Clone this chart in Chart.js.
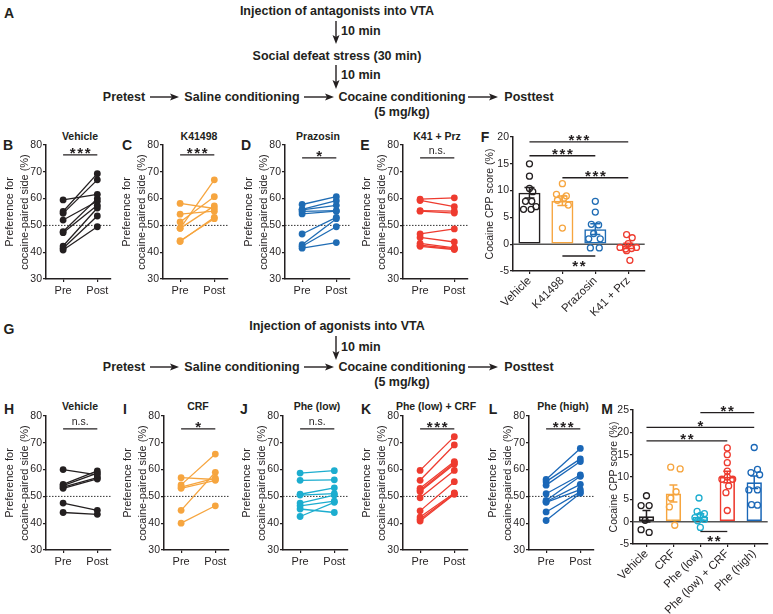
<!DOCTYPE html>
<html><head><meta charset="utf-8">
<script src="https://cdn.jsdelivr.net/npm/chart.js@4/dist/chart.umd.min.js"></script>
<style>
html,body{margin:0;padding:0;background:#fff;overflow:hidden;}
#fig{position:relative;width:773px;height:614px;overflow:hidden;font-family:'Liberation Sans',Arial,Helvetica,sans-serif;color:#231f20;}
.t{position:absolute;white-space:nowrap;transform:translate(-50%,-50%);line-height:1;}
.l{transform:translate(0,-50%);}
.sch{font-weight:bold;font-size:12.5px;}
.lt{font-weight:bold;font-size:14px;}
.pt{font-weight:bold;font-size:10.5px;}
canvas{position:absolute;}
svg{position:absolute;left:0;top:0;}
</style></head><body><div id="fig"></div>
<script>
// ================= DATA =================
const xLabels = ['Pre', 'Post'];
const prefTicks = [30, 40, 50, 60, 70, 80];

// Top row (antagonists)
const B_title = 'Vehicle';
const B_pre  = [59.5, 55.2, 54.5, 52.0, 47.7, 47.3, 42.3, 41.5, 40.8];
const B_post = [61.6, 69.3, 67.0, 59.0, 60.0, 57.5, 56.5, 53.5, 49.5];
const B_sig = '***';
const C_title = 'K41498';
const C_pre  = [58.2, 54.2, 51.3, 48.9, 48.9, 44.3, 44.0];
const C_post = [56.3, 55.3, 60.7, 67.0, 57.3, 52.5, 53.0];
const C_sig = '***';
const D_title = 'Prazosin';
const D_pre  = [57.8, 56.0, 55.8, 55.2, 54.3, 46.8, 42.8, 42.2, 41.5];
const D_post = [60.7, 59.2, 57.5, 55.5, 55.3, 53.0, 52.5, 49.5, 43.6];
const D_sig = '*';
const E_title = 'K41 + Prz';
const E_pre  = [59.8, 59.3, 55.5, 55.3, 46.8, 45.5, 43.3, 42.6, 42.2];
const E_post = [60.3, 57.0, 55.3, 54.6, 48.7, 43.8, 41.6, 41.3, 41.0];
const E_sig = 'n.s.';

// Bottom row (agonists)
const H_title = 'Vehicle';
const H_pre  = [60.0, 54.5, 54.0, 53.5, 53.0, 47.5, 44.0];
const H_post = [58.0, 59.5, 58.7, 57.0, 56.5, 44.8, 43.3];
const H_sig = 'n.s.';
const I_title = 'CRF';
const I_pre  = [57.0, 54.3, 53.5, 53.0, 44.8, 40.0];
const I_post = [56.3, 65.8, 56.8, 56.0, 59.0, 46.5];
const I_sig = '*';
const J_title = 'Phe (low)';
const J_pre  = [58.7, 56.0, 50.8, 50.5, 47.5, 46.5, 45.3, 42.5];
const J_post = [59.6, 56.2, 53.2, 51.0, 50.5, 48.2, 44.0, 47.8];
const J_sig = 'n.s.';
const K_title = 'Phe (low) + CRF';
const K_pre  = [59.7, 56.0, 53.0, 52.3, 51.8, 49.5, 44.6, 42.3, 41.5, 40.8];
const K_post = [72.3, 69.2, 63.0, 62.5, 62.0, 59.7, 55.5, 51.3, 51.0, 50.8];
const K_sig = '***';
const L_title = 'Phe (high)';
const L_pre  = [56.3, 55.5, 54.2, 51.0, 48.5, 48.0, 47.8, 44.2, 41.0];
const L_post = [67.9, 64.0, 63.0, 58.0, 57.5, 54.5, 52.5, 51.7, 51.2];
const L_sig = '***';

// Panel F
const F_categories = ['Vehicle', 'K41498', 'Prazosin', 'K41 + Prz'];
const F_mean = [9.6, 8.1, 2.8, -0.3];
const F_sem  = [1.0, 0.9, 1.0, 0.5];
const F_vehicle  = [15.0, 12.7, 10.4, 9.8, 8.0, 8.0, 6.5, 6.5, 7.0];
const F_k41498   = [11.3, 9.3, 9.0, 8.6, 8.2, 7.3, 3.0];
const F_prazosin = [8.0, 6.0, 3.7, 3.6, 2.0, 1.0, 1.0, -0.7, -0.7];
const F_k41prz   = [1.8, 1.2, 0.1, -0.6, -0.9, -0.8, -0.6, -1.2, -3.0];
const F_vehicle_dx  = [0, 0, 0, 0.1, -0.12, 0.07, -0.18, 0.05, 0.2];
const F_k41498_dx   = [0, -0.18, 0.12, 0.05, -0.15, 0.18, 0];
const F_prazosin_dx = [0, 0, -0.12, 0.1, -0.05, -0.2, 0.15, -0.15, 0.12];
const F_k41prz_dx   = [-0.05, 0.12, 0, -0.25, -0.08, 0.1, 0.25, -0.05, 0.05];
const F_ticks = [-5, 0, 5, 10, 15, 20];
const F_sigs = [
  {from: 0, to: 3, y: 19.1, text: '***'},
  {from: 0, to: 2, y: 16.5, text: '***'},
  {from: 1, to: 3, y: 12.4, text: '***'},
  {from: 1, to: 2, y: -2.2, text: '**', below: true}
];

// Panel M
const M_categories = ['Vehicle', 'CRF', 'Phe (low)', 'Phe (low) + CRF', 'Phe (high)'];
const M_mean = [1.2, 6.3, 1.1, 10.0, 8.8];
const M_sem  = [1.3, 1.9, 0.7, 1.3, 1.4];
const M_vehicle = [5.8, 3.6, 3.6, 0.3, -1.8, -2.4];
const M_crf     = [12.2, 11.8, 6.7, 5.3, 3.3, -0.8];
const M_phelow  = [5.3, 2.3, 1.8, 1.4, 0.9, 0.5, 0.2, -1.3];
const M_phecrf  = [16.5, 15.0, 13.2, 11.3, 10.0, 9.5, 9.5, 8.0, 6.5, 2.5];
const M_phehigh = [16.6, 11.7, 11.0, 10.5, 7.1, 7.1, 3.8, 3.7];
const M_vehicle_dx = [0, -0.2, 0.1, -0.05, -0.2, 0.1];
const M_crf_dx     = [-0.1, 0.25, 0.1, -0.1, -0.15, 0.05];
const M_phelow_dx  = [-0.05, -0.12, 0.15, 0, -0.2, 0.15, -0.1, 0];
const M_phecrf_dx  = [0, 0, 0, 0, 0, -0.2, 0.2, 0.05, -0.05, 0];
const M_phehigh_dx = [0, 0.12, -0.12, 0.2, -0.2, 0.12, -0.1, 0.12];
const M_ticks = [-5, 0, 5, 10, 15, 20, 25];
const M_sigs = [
  {from: 2, to: 4, y: 24.4, text: '**'},
  {from: 0, to: 4, y: 21.1, text: '*'},
  {from: 0, to: 3, y: 18.1, text: '**'},
  {from: 2, to: 3, y: -2.2, text: '**', below: true}
];

// ================= STYLE =================
const FONT = "'Liberation Sans', Arial, Helvetica, sans-serif";
const INK = '#231f20';
const BLACK = '#231f20', ORANGE = '#F6A53F', BLUE = '#1F6CB4', RED = '#EE3B2F', CYAN = '#1CADCF', BLUE2 = '#1A67B7';
const tickFont = {family: FONT, size: 10.5};
const xTickFont = {family: FONT, size: 11};
const barLabelFont = {family: FONT, size: 11.5};

const fig = document.getElementById('fig');
function txt(s, x, y, cls) {
  const d = document.createElement('div');
  d.className = 't ' + cls; d.textContent = s;
  d.style.left = x + 'px'; d.style.top = y + 'px';
  fig.appendChild(d);
}
function addCanvas(left, top, w, h) {
  const c = document.createElement('canvas');
  c.width = w; c.height = h;
  c.style.left = left + 'px'; c.style.top = top + 'px';
  c.style.width = w + 'px'; c.style.height = h + 'px';
  fig.appendChild(c);
  return c;
}

function sigLabel(ctx, text, cx, ly, below) {
  ctx.save();
  ctx.fillStyle = INK; ctx.textAlign = 'center'; ctx.textBaseline = 'alphabetic';
  if (text.indexOf('*') >= 0) {
    ctx.font = 'bold 15px ' + FONT;
    const n = text.length, sp = 7.5;
    const base = below ? ly + 15 : ly + 3.5;
    for (let k = 0; k < n; k++) ctx.fillText('*', cx + (k - (n - 1) / 2) * sp, base);
  } else {
    ctx.font = '10.5px ' + FONT;
    ctx.fillText(text, cx, below ? ly + 12 : ly - 3.5);
  }
  ctx.restore();
}

const annot = {
  id: 'annot',
  beforeDatasetsDraw(chart, args, o) {
    if (o.ref == null) return;
    const {ctx, chartArea: a} = chart;
    const py = chart.scales.y.getPixelForValue(o.ref);
    ctx.save();
    ctx.beginPath();
    ctx.lineWidth = o.refWidth || 1;
    ctx.strokeStyle = o.refColor || '#444';
    if (o.refDash) ctx.setLineDash(o.refDash);
    ctx.moveTo(a.left, py); ctx.lineTo(a.right, py); ctx.stroke();
    ctx.restore();
  },
  afterDatasetsDraw(chart, args, o) {
    const {ctx} = chart;
    const xs = chart.scales.x, ys = chart.scales.y;
    if (o.err) {
      o.err.mean.forEach((m, i) => {
        const x = xs.getPixelForValue(i);
        const y1 = ys.getPixelForValue(m + o.err.sem[i]);
        const y2 = ys.getPixelForValue(m - o.err.sem[i]);
        const w = o.err.cap / 2;
        ctx.save();
        ctx.strokeStyle = o.err.colors[i]; ctx.lineWidth = 1.5;
        ctx.beginPath();
        ctx.moveTo(x, y1); ctx.lineTo(x, y2);
        ctx.moveTo(x - w, y1); ctx.lineTo(x + w, y1);
        ctx.moveTo(x - w, y2); ctx.lineTo(x + w, y2);
        ctx.stroke();
        ctx.restore();
      });
    }
    (o.sig || []).forEach(s => {
      const x1 = xs.getPixelForValue(s.from), x2 = xs.getPixelForValue(s.to);
      const y = ys.getPixelForValue(s.y);
      ctx.save();
      ctx.strokeStyle = INK; ctx.lineWidth = 1.3;
      ctx.beginPath(); ctx.moveTo(x1, y); ctx.lineTo(x2, y); ctx.stroke();
      ctx.restore();
      sigLabel(ctx, s.text, (x1 + x2) / 2, y, s.below);
    });
  }
};

function axisGrid() {
  return {display: true, drawOnChartArea: false, drawTicks: true, tickLength: 3, color: INK, lineWidth: 1.2};
}

// ---------- line (paired) panels ----------
function linePanel(axisX, chartTop, pre, post, color, sig, sigY) {
  const YW = 46, XH = 22, PT = 8, W = 115, CH = 134;
  const cv = addCanvas(axisX - YW, chartTop - PT, W, PT + CH + XH);
  const datasets = pre.map((p, i) => ({
    data: [{x: 0, y: p}, {x: 1, y: post[i]}],
    borderColor: color, backgroundColor: color, borderWidth: 1.3,
    pointRadius: 3.4, pointBorderWidth: 0, pointBackgroundColor: color
  }));
  new Chart(cv, {
    type: 'line',
    data: {datasets},
    options: {
      responsive: false, animation: false, events: [],
      layout: {padding: {top: PT, right: W - YW - 65, left: 0, bottom: 0}},
      plugins: {legend: {display: false}, tooltip: {enabled: false},
        annot: {ref: 50, refDash: [1.5, 1.5], refColor: '#333', refWidth: 1,
                sig: [{from: 0, to: 1, y: sigY, text: sig}]}},
      scales: {
        x: {type: 'linear', min: -0.5, max: 1.4,
            afterBuildTicks: s => { s.ticks = xLabels.map((_, i) => ({value: i})); },
            ticks: {callback: v => xLabels[v], font: xTickFont, color: INK, padding: 2, maxRotation: 0, autoSkip: false},
            grid: axisGrid(), border: {display: true, color: INK, width: 1.5},
            afterFit: s => { s.height = XH; }},
        y: {type: 'linear', min: 30, max: 80,
            afterBuildTicks: s => { s.ticks = prefTicks.map(v => ({value: v})); },
            ticks: {font: tickFont, color: INK, padding: 1},
            grid: axisGrid(), border: {display: true, color: INK, width: 1.5},
            title: {display: true, text: ['Preference for', 'cocaine-paired side (%)'], color: INK,
                    font: {family: FONT, size: 11, lineHeight: 1.32}, padding: {top: 3, bottom: 0}},
            afterFit: s => { s.width = YW; }}
      }
    },
    plugins: [annot]
  });
}

// ---------- bar + dots panels ----------
function barPanel(g, cats, mean, sem, colors, pts, dxs, ticks, sigs) {
  const cv = addCanvas(g.left, g.top, g.w, g.pt + 134 + g.xh);
  const n = cats.length;
  const datasets = [{
    type: 'bar', data: mean, xAxisID: 'x', grouped: false, order: 2,
    borderColor: colors, backgroundColor: 'rgba(255,255,255,0)', borderWidth: 1.6,
    borderSkipped: false, barPercentage: g.barPct, categoryPercentage: 1
  }];
  pts.forEach((arr, i) => {
    datasets.push({
      type: 'scatter', xAxisID: 'x2', order: 1,
      data: arr.map((v, j) => ({x: i + dxs[i][j], y: v})),
      pointRadius: 3, pointBorderWidth: 1.3, borderColor: colors[i],
      pointBorderColor: colors[i], pointBackgroundColor: 'rgba(255,255,255,0)', showLine: false
    });
  });
  new Chart(cv, {
    type: 'bar',
    data: {labels: cats, datasets},
    options: {
      responsive: false, animation: false, events: [],
      layout: {padding: {top: g.pt, right: g.w - g.yw - g.cw, left: 0, bottom: 0}},
      plugins: {legend: {display: false}, tooltip: {enabled: false},
        annot: {ref: 0, refColor: '#555', refWidth: 1.5,
                err: {mean, sem, colors, cap: g.cap}, sig: sigs}},
      scales: {
        x: {type: 'category', offset: true,
            ticks: {font: barLabelFont, color: INK, padding: 0, minRotation: 45, maxRotation: 45, autoSkip: false},
            grid: Object.assign(axisGrid(), {offset: false}),
            border: {display: true, color: INK, width: 1.5},
            afterFit: s => { s.height = g.xh; }},
        x2: {type: 'linear', display: false, offset: false, min: -0.5, max: n - 0.5,
             grid: {offset: false}},
        y: {type: 'linear', min: ticks[0], max: ticks[ticks.length - 1],
            afterBuildTicks: s => { s.ticks = ticks.map(v => ({value: v})); },
            ticks: {font: tickFont, color: INK, padding: 1},
            grid: axisGrid(), border: {display: true, color: INK, width: 1.5},
            title: {display: true, text: 'Cocaine CPP score (%)', color: INK,
                    font: {family: FONT, size: 10.5, lineHeight: 1.2}, padding: {top: g.tp, bottom: 0}},
            afterFit: s => { s.width = g.yw; }}
      }
    },
    plugins: [annot]
  });
}

// ================= SCHEMATICS =================
const svgNS = 'http://www.w3.org/2000/svg';
const svg = document.createElementNS(svgNS, 'svg');
svg.setAttribute('width', 773); svg.setAttribute('height', 614);
fig.appendChild(svg);
function line(x1, y1, x2, y2) {
  const l = document.createElementNS(svgNS, 'line');
  l.setAttribute('x1', x1); l.setAttribute('y1', y1); l.setAttribute('x2', x2); l.setAttribute('y2', y2);
  l.setAttribute('stroke', INK); l.setAttribute('stroke-width', 1.4);
  svg.appendChild(l);
}
function poly(p) {
  const e = document.createElementNS(svgNS, 'polygon');
  e.setAttribute('points', p); e.setAttribute('fill', INK);
  svg.appendChild(e);
}
function hArrow(x1, x2, y) { line(x1, y, x2 - 5, y); poly(`${x2},${y} ${x2 - 9},${y - 3.5} ${x2 - 7},${y} ${x2 - 9},${y + 3.5}`); }
function vArrow(x, y1, y2) { line(x, y1, x, y2 - 5); poly(`${x},${y2} ${x - 3.5},${y2 - 9} ${x},${y2 - 7} ${x + 3.5},${y2 - 9}`); }

function flowRow(y) {
  txt('Pretest', 124, y, 'sch');
  hArrow(150, 179, y);
  txt('Saline conditioning', 242, y, 'sch');
  hArrow(304, 334, y);
  txt('Cocaine conditioning', 402, y, 'sch');
  hArrow(468, 498, y);
  txt('Posttest', 529, y, 'sch');
  txt('(5 mg/kg)', 402, y + 15, 'sch');
}
// A
txt('A', 9, 13, 'lt');
txt('Injection of antagonists into VTA', 337, 11, 'sch');
vArrow(336, 21, 44); txt('10 min', 341, 31, 'sch l');
txt('Social defeat stress (30 min)', 337, 56, 'sch');
vArrow(336, 65, 89); txt('10 min', 341, 75, 'sch l');
flowRow(97);
// G
txt('G', 9, 329, 'lt');
txt('Injection of agonists into VTA', 337, 326, 'sch');
vArrow(336, 336, 360); txt('10 min', 341, 347, 'sch l');
flowRow(367);

// ================= PANELS =================
const TOP1 = 145, TOP2 = 416;
[['B', 8, B_title, 80], ['C', 127, C_title, 199], ['D', 246, D_title, 318], ['E', 365, E_title, 437]]
  .forEach(([L, lx, t, tx]) => { txt(L, lx, 145, 'lt'); txt(t, tx, 136, 'pt'); });
txt('F', 485, 137, 'lt');
[['H', 9, H_title, 80], ['I', 125, I_title, 198], ['J', 244, J_title, 317], ['K', 366, K_title, 436], ['L', 493, L_title, 563]]
  .forEach(([L, lx, t, tx]) => { txt(L, lx, 409, 'lt'); txt(t, tx, 406, 'pt'); });
txt('M', 607, 409, 'lt');

linePanel(46, TOP1, B_pre, B_post, BLACK, B_sig, 76.3);
linePanel(163, TOP1, C_pre, C_post, ORANGE, C_sig, 76.3);
linePanel(285, TOP1, D_pre, D_post, BLUE, D_sig, 75.2);
linePanel(403, TOP1, E_pre, E_post, RED, E_sig, 75.2);

linePanel(46, TOP2, H_pre, H_post, BLACK, H_sig, 75.2);
linePanel(164, TOP2, I_pre, I_post, ORANGE, I_sig, 75.2);
linePanel(283, TOP2, J_pre, J_post, CYAN, J_sig, 75.2);
linePanel(403, TOP2, K_pre, K_post, RED, K_sig, 75.2);
linePanel(529, TOP2, L_pre, L_post, BLUE2, L_sig, 75.2);

barPanel({left: 478, top: 128, w: 172, pt: 9, yw: 35, cw: 133, xh: 55, barPct: 0.67, cap: 10, tp: 6},
  F_categories, F_mean, F_sem, [BLACK, ORANGE, BLUE, RED],
  [F_vehicle, F_k41498, F_prazosin, F_k41prz],
  [F_vehicle_dx, F_k41498_dx, F_prazosin_dx, F_k41prz_dx], F_ticks, F_sigs);

barPanel({left: 598, top: 398, w: 175, pt: 12, yw: 35, cw: 136, xh: 70, barPct: 0.57, cap: 8, tp: 10},
  M_categories, M_mean, M_sem, [BLACK, ORANGE, CYAN, RED, BLUE2],
  [M_vehicle, M_crf, M_phelow, M_phecrf, M_phehigh],
  [M_vehicle_dx, M_crf_dx, M_phelow_dx, M_phecrf_dx, M_phehigh_dx], M_ticks, M_sigs);
</script>
</body></html>
